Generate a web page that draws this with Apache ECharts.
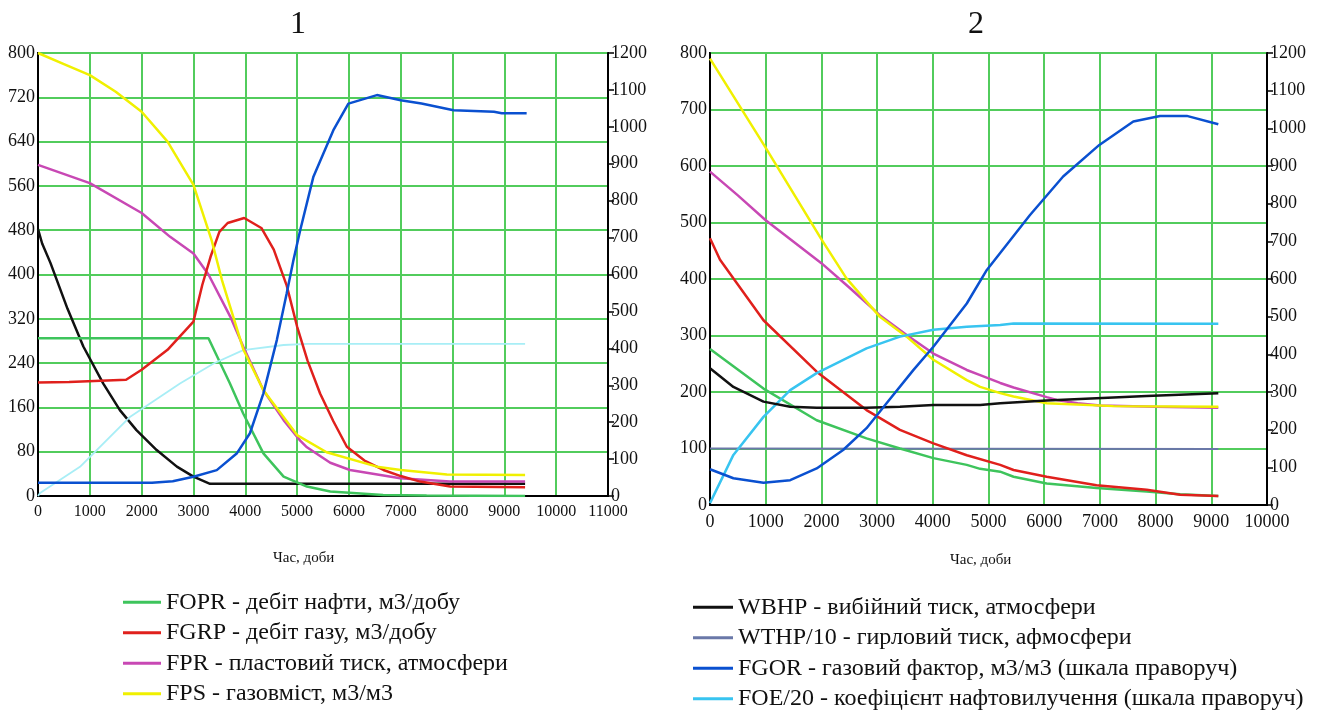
<!DOCTYPE html>
<html>
<head>
<meta charset="utf-8">
<script src="https://cdn.jsdelivr.net/npm/echarts@6/dist/echarts.min.js"></script>
<style>
html,body{margin:0;padding:0;background:#fff;}
#main{width:1331px;height:715px;}
</style>
</head>
<body>
<div id="main"></div>
<script>
// ---------- data (x = days) ----------
const names = ["FOPR - дебіт нафти, м3/добу","FGRP - дебіт газу, м3/добу","FPR - пластовий тиск, атмосфери","FPS - газовміст, м3/м3",
               "WBHP - вибійний тиск, атмосфери","WTHP/10 - гирловий тиск, афмосфери","FGOR - газовий фактор, м3/м3 (шкала праворуч)","FOE/20 - коефіцієнт нафтовилучення (шкала праворуч)"];
const rightTicks = {min:0, max:1200, interval:100};

// Chart 1
const c1_FOPR = [[0,285],[3290,285],[3700,204],[3960,149],[4350,77],[4740,35],[5190,17],[5640,8],[6660,2],[7500,1],[9400,0]];
const c1_FGRP = [[0,205],[600,206],[1700,210],[2000,228],[2500,264],[3000,315],[3170,381],[3330,432],[3500,477],[3660,493],[3980,502],[4310,484],[4550,445],[4800,380],[5000,306],[5200,245],[5444,185],[5700,135],[5960,89],[6300,64],[6666,47],[7000,36],[7375,26],[7954,17],[9400,16]];
const c1_FPR  = [[0,598],[1000,565],[2000,511],[2550,468],[3000,438],[3290,400],[3710,324],[3960,270],[4350,191],[4740,137],[5060,100],[5190,88],[5640,60],[6020,47],[6990,32],[7950,26],[9400,26]];
const c1_FPS  = [[0,800],[500,780],[1000,760],[1500,730],[2000,694],[2500,640],[3000,562],[3350,462],[3550,390],[3965,264],[4350,191],[5000,110],[5570,79],[6540,53],[7000,47],[7890,39],[9400,38]];
const c1_WBHP = [[0,482],[80,456],[240,421],[570,338],[875,270],[1260,203],[1580,155],[1900,119],[2290,83],[2680,53],[3000,35],[3320,22],[9400,22]];
const c1_FGOR = [[0,36],[2200,36],[2600,40],[3000,52],[3450,70],[3840,116],[4090,170],[4350,278],[4610,423],[4800,549],[4930,639],[5060,720],[5315,865],[5700,991],[5990,1063],[6540,1086],[7000,1072],[7400,1063],[8020,1045],[8800,1041],[8950,1037],[9430,1037]];
const c1_FOE  = [[0,0],[40,8],[810,79],[1780,215],[2740,305],[3390,359],[3960,395],[4740,409],[5200,412],[9400,412]];

// Chart 2
const c2_FOPR = [[0,276],[960,206],[1915,150],[2810,118],[3410,100],[4010,83],[4610,71],[4850,64],[5210,59],[5450,50],[6045,38],[6940,30],[7840,24],[8440,19],[9126,16]];
const c2_FGRP = [[0,472],[180,434],[960,327],[1915,236],[2810,168],[3410,133],[4010,109],[4610,88],[5210,71],[5450,62],[6045,50],[6940,35],[7840,27],[8440,18],[9126,16]];
const c2_FPR  = [[0,590],[500,548],[1000,504],[1500,466],[2000,428],[2500,385],[3050,336],[3530,301],[4010,268],[4610,239],[4850,230],[5210,216],[5450,208],[6045,191],[6224,186],[6600,180],[7000,176],[8000,174],[9126,172]];
const c2_FPS  = [[0,790],[990,634],[1990,472],[2450,401],[3050,333],[3530,298],[4010,257],[4610,221],[4850,209],[5210,198],[5450,192],[6045,180],[7240,175],[9126,174]];
const c2_WBHP = [[0,242],[420,209],[960,183],[1440,174],[1915,172],[2810,172],[3410,174],[4010,177],[4850,177],[5210,180],[6045,185],[6940,189],[7840,193],[9126,198]];
const c2_WTHP = [[0,100],[9126,99]];
const c2_FGOR = [[0,95],[420,71],[960,59],[1440,66],[1915,97],[2390,146],[2810,204],[3170,270],[3650,358],[4010,420],[4610,535],[4970,624],[5745,770],[6340,872],[6990,956],[7600,1018],[8080,1033],[8560,1033],[9126,1011]];
const c2_FOE  = [[0,5],[420,133],[960,234],[1440,305],[1915,350],[2810,416],[3410,447],[4010,465],[4610,473],[5210,478],[5450,482],[9126,481]];

// ---------- style ----------
const FONT = 'Liberation Serif';
const colors = ['#3ec45c','#e0201c','#c848b4','#f0f000','#111111','#6a78a8','#0a50d0','#38c4f0'];
const gridGreen = '#52cc5c';
const plain = v => String(v);

const chart = echarts.init(document.getElementById('main'), null, {renderer:'canvas'});

function xAx(gi, max, fs){
  return {type:'value', gridIndex:gi, min:0, max:max, interval:1000,
    axisLine:{show:true, onZero:false, lineStyle:{color:'#000', width:2}},
    axisTick:{show:false},
    axisLabel:{fontFamily:FONT, fontSize:fs, color:'#111', margin:8, hideOverlap:false, formatter:plain},
    splitLine:{show:true, lineStyle:{color:gridGreen, width:2}}};
}
function yLeft(gi, interval){
  return {type:'value', gridIndex:gi, position:'left', min:0, max:800, interval:interval,
    axisLine:{show:true, onZero:false, lineStyle:{color:'#000', width:2}},
    axisTick:{show:false},
    axisLabel:{fontFamily:FONT, fontSize:18, color:'#111', margin:3, formatter:plain},
    splitLine:{show:true, lineStyle:{color:gridGreen, width:2}}};
}
function yRight(gi){
  return {type:'value', gridIndex:gi, position:'right', min:rightTicks.min, max:rightTicks.max, interval:rightTicks.interval,
    axisLine:{show:true, onZero:false, lineStyle:{color:'#000', width:2}},
    axisTick:{show:true, inside:false, length:6, lineStyle:{color:'#000', width:1.5}},
    axisLabel:{fontFamily:FONT, fontSize:18, color:'#111', margin:3, formatter:plain},
    splitLine:{show:false}};
}
function ser(name, data, color, xi, yi, opts){
  return Object.assign({name:name, type:'line', data:data, xAxisIndex:xi, yAxisIndex:yi,
    showSymbol:false, symbol:'none', smooth:false,
    lineStyle:{color:color, width:2.5}, itemStyle:{color:color}, z:3}, opts||{});
}

const option = {
  backgroundColor:'#ffffff',
  animation:false,
  title:[
    {text:'1', left:285, top:4, textStyle:{fontFamily:FONT, fontSize:32, fontWeight:'normal', color:'#111'}},
    {text:'2', left:963, top:4, textStyle:{fontFamily:FONT, fontSize:32, fontWeight:'normal', color:'#111'}}
  ],
  grid:[
    {left:38, right:723, top:53, height:443, show:true, borderColor:'#000', borderWidth:2, backgroundColor:'transparent'},
    {left:710, right:64, top:53, height:452, show:true, borderColor:'#000', borderWidth:2, backgroundColor:'transparent'}
  ],
  xAxis:[xAx(0, 11000, 16), xAx(1, 10000, 18)],
  yAxis:[yLeft(0, 80), yRight(0), yLeft(1, 100), yRight(1)],
  legend:[
    {left:118, top:582, height:130, orient:'vertical', itemWidth:38, itemHeight:3, itemGap:0, icon:'rect',
     data:names.slice(0,4),
     textStyle:{fontFamily:FONT, fontSize:24, color:'#111', lineHeight:30.5}},
    {left:688, top:587, height:130, orient:'vertical', itemWidth:40, itemHeight:3, itemGap:0, icon:'rect',
     data:names.slice(4,8),
     textStyle:{fontFamily:FONT, fontSize:24, color:'#111', lineHeight:30.5}}
  ],
  graphic:[
    {type:'text', left:273, top:551, style:{text:'Час, доби', fontFamily:FONT, fontSize:15, fill:'#111'}},
    {type:'text', left:950, top:553, style:{text:'Час, доби', fontFamily:FONT, fontSize:15, fill:'#111'}}
  ],
  series:[
    // chart 2 (listed first so the legend takes its colours)
    ser(names[5], c2_WTHP, colors[5], 1, 2, {lineStyle:{color:colors[5], width:2}}),
    ser(names[0], c2_FOPR, colors[0], 1, 2),
    ser(names[1], c2_FGRP, colors[1], 1, 2),
    ser(names[2], c2_FPR, colors[2], 1, 2),
    ser(names[3], c2_FPS, colors[3], 1, 2),
    ser(names[7], c2_FOE, colors[7], 1, 3),
    ser(names[4], c2_WBHP, colors[4], 1, 2),
    ser(names[6], c2_FGOR, colors[6], 1, 3),
    // chart 1
    ser(names[4], c1_WBHP, colors[4], 0, 0),
    ser(names[0], c1_FOPR, colors[0], 0, 0),
    ser(names[7], c1_FOE, '#a8eef6', 0, 1, {lineStyle:{color:'#a8eef6', width:1.8}}),
    ser(names[2], c1_FPR, colors[2], 0, 0),
    ser(names[1], c1_FGRP, colors[1], 0, 0),
    ser(names[3], c1_FPS, colors[3], 0, 0),
    ser(names[6], c1_FGOR, colors[6], 0, 1)
  ]
};
chart.setOption(option);
</script>
</body>
</html>
